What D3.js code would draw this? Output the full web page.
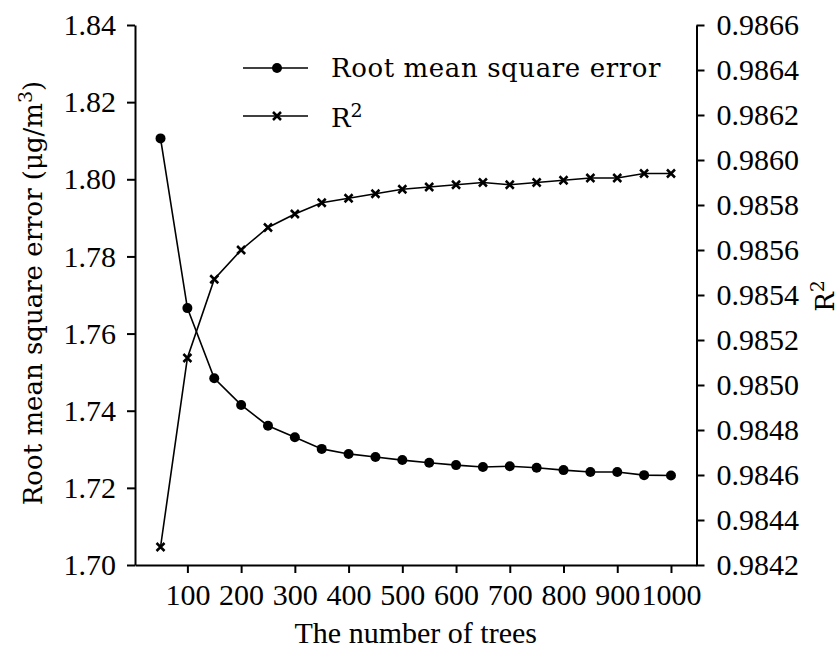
<!DOCTYPE html>
<html>
<head>
<meta charset="utf-8">
<script src="https://cdn.jsdelivr.net/npm/d3@7"></script>
<style>
    body { margin: 0; background: #fff; }
    .axis path, .axis line { stroke: #000; stroke-width: 2px; }
    .axis text { font-family: "Liberation Serif", serif; font-size: 30px; fill: #000; }
</style>
</head>
<body>
<svg id="chart" width="839" height="648"></svg>
<script>
// number of trees on the x axis
var trees = [50, 100, 150, 200, 250, 300, 350, 400, 450, 500, 550, 600, 650, 700, 750, 800, 850, 900, 950, 1000];

// root mean square error (left axis)
var rmse = [1.8106, 1.7666, 1.7484, 1.7415, 1.7361, 1.7331, 1.7301, 1.7288, 1.7280, 1.7272,
            1.7265, 1.7259, 1.7254, 1.7256, 1.7252, 1.7246, 1.7241, 1.7241, 1.7233, 1.7232];

// R2 (right axis)
var r2 = [0.98428, 0.98512, 0.98547, 0.98560, 0.98570, 0.98576, 0.98581, 0.98583, 0.98585, 0.98587,
          0.98588, 0.98589, 0.98590, 0.98589, 0.98590, 0.98591, 0.98592, 0.98592, 0.98594, 0.98594];

var xTicks = [100, 200, 300, 400, 500, 600, 700, 800, 900, 1000];
var leftTicks = [1.70, 1.72, 1.74, 1.76, 1.78, 1.80, 1.82, 1.84];
var rightTicks = [0.9842, 0.9844, 0.9846, 0.9848, 0.9850, 0.9852, 0.9854, 0.9856, 0.9858, 0.9860, 0.9862, 0.9864, 0.9866];

var svg = d3.select("#chart");

var plotLeft = 135, plotRight = 696.5, plotTop = 25, plotBottom = 565;

var x = d3.scaleLinear().domain([2.5, 1047.5]).range([plotLeft, plotRight]);
var yL = d3.scaleLinear().domain([1.70, 1.84]).range([plotBottom, plotTop]);
var yR = d3.scaleLinear().domain([0.9842, 0.9866]).range([plotBottom, plotTop]);

// axes
svg.append("g")
    .attr("class", "axis")
    .attr("transform", "translate(0," + plotBottom + ")")
    .call(d3.axisBottom(x).tickValues(xTicks).tickSize(8).tickSizeOuter(0).tickPadding(11).tickFormat(d3.format("d")));

svg.append("g")
    .attr("class", "axis")
    .attr("transform", "translate(" + plotLeft + ",0)")
    .call(d3.axisLeft(yL).tickValues(leftTicks).tickSize(8).tickSizeOuter(0).tickPadding(11).tickFormat(d3.format(".2f")));

svg.append("g")
    .attr("class", "axis")
    .attr("transform", "translate(" + plotRight + ",0)")
    .call(d3.axisRight(yR).tickValues(rightTicks).tickSize(8).tickSizeOuter(0).tickPadding(12).tickFormat(d3.format(".4f")));

// axis titles
svg.append("text")
    .attr("x", (plotLeft + plotRight) / 2)
    .attr("y", 643)
    .attr("text-anchor", "middle")
    .style("font-family", "Liberation Serif")
    .style("font-size", "30px")
    .text("The number of trees");

var yTitle = svg.append("text")
    .attr("transform", "translate(42,293) rotate(-90)")
    .attr("text-anchor", "middle")
    .style("font-family", "DejaVu Serif")
    .style("font-size", "26px");
yTitle.append("tspan").text("Root mean square error (μg/m");
yTitle.append("tspan").attr("dy", -10).style("font-size", "19px").text("3");
yTitle.append("tspan").attr("dy", 10).text(")");

var rTitle = svg.append("text")
    .attr("transform", "translate(834,296) rotate(-90)")
    .attr("text-anchor", "middle")
    .style("font-family", "DejaVu Serif")
    .style("font-size", "26px");
rTitle.append("tspan").text("R");
rTitle.append("tspan").attr("dy", -10).style("font-size", "19px").text("2");

// lines
var lineL = d3.line().x(function (d, i) { return x(trees[i]); }).y(function (d) { return yL(d); });
var lineR = d3.line().x(function (d, i) { return x(trees[i]); }).y(function (d) { return yR(d); });

svg.append("path").attr("d", lineL(rmse))
    .attr("fill", "none").attr("stroke", "#000").attr("stroke-width", 1.6);
svg.append("path").attr("d", lineR(r2))
    .attr("fill", "none").attr("stroke", "#000").attr("stroke-width", 1.6);

svg.selectAll(".dot")
    .data(rmse)
    .enter()
    .append("circle")
    .attr("class", "dot")
    .attr("cx", function (d, i) { return x(trees[i]); })
    .attr("cy", function (d) { return yL(d); })
    .attr("r", 5)
    .attr("fill", "#000");

var cross = "M-4,-4L4,4M4,-4L-4,4";
svg.selectAll(".cross")
    .data(r2)
    .enter()
    .append("path")
    .attr("class", "cross")
    .attr("transform", function (d, i) { return "translate(" + x(trees[i]) + "," + yR(d) + ")"; })
    .attr("d", cross)
    .attr("stroke", "#000")
    .attr("stroke-width", 2.5);

// legend
var legend = svg.append("g");
legend.append("line").attr("x1", 243).attr("x2", 308).attr("y1", 68).attr("y2", 68)
    .attr("stroke", "#000").attr("stroke-width", 1.6);
legend.append("circle").attr("cx", 277).attr("cy", 68).attr("r", 5).attr("fill", "#000");
legend.append("line").attr("x1", 243).attr("x2", 308).attr("y1", 116).attr("y2", 116)
    .attr("stroke", "#000").attr("stroke-width", 1.6);
legend.append("path").attr("d", cross).attr("transform", "translate(277,116)")
    .attr("stroke", "#000").attr("stroke-width", 2.5);

legend.append("text")
    .attr("x", 331).attr("y", 77)
    .style("font-family", "DejaVu Serif")
    .style("font-size", "26px")
    .style("letter-spacing", "0.6px")
    .text("Root mean square error");

var r2Text = legend.append("text")
    .attr("x", 331).attr("y", 127)
    .style("font-family", "DejaVu Serif")
    .style("font-size", "26px");
r2Text.append("tspan").text("R");
r2Text.append("tspan").attr("dy", -10).style("font-size", "19px").text("2");
</script>
</body>
</html>
